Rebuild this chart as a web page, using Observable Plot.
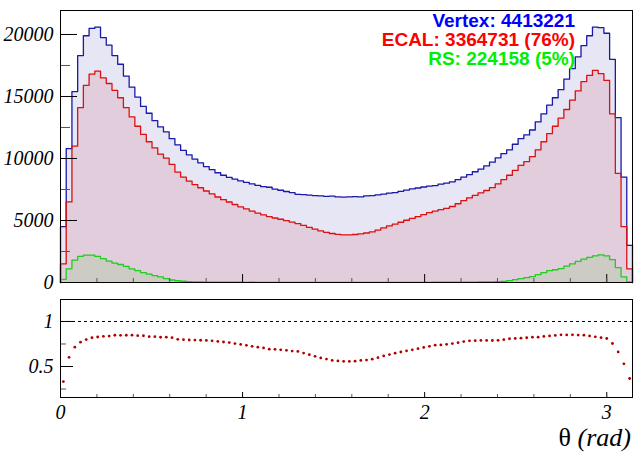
<!DOCTYPE html>
<html><head><meta charset="utf-8">
<script src="https://cdn.jsdelivr.net/npm/d3@7"></script>
<script src="https://cdn.jsdelivr.net/npm/@observablehq/plot@0.6"></script>
<style>
html,body{margin:0;padding:0;background:#fff;}
#wrap{position:relative;width:634px;height:462px;overflow:hidden;}
#top{position:absolute;left:0;top:0;}
#bot{position:absolute;left:0;top:290px;}
#xl{position:absolute;right:3px;top:425px;font-family:"Liberation Serif",serif;font-size:26px;line-height:26px;white-space:nowrap;color:#000;}
#xl i{font-style:italic;}
#top svg text, #bot svg text{font-family:"Liberation Serif",serif !important;font-style:italic !important;font-size:20px !important;}
.leg{position:absolute;right:59px;font-family:"Liberation Sans",Arial,sans-serif;font-weight:bold;font-size:19px;line-height:19px;white-space:nowrap;}
</style></head><body>
<div id="wrap"><div id="top"></div><div id="bot"></div><div id="xl">θ <i>(rad)</i></div></div>
<script>
// Counts per θ bin (100 bins over [0, π])
const vertex = [
4500, 10800, 15400, 18300, 19900, 20500, 20600, 19750, 19150, 18300,
17600, 16650, 15750, 14950, 14200, 13650, 13050, 12550, 12150, 11600,
11100, 10650, 10300, 9950, 9650, 9350, 9100, 8850, 8650, 8480,
8330, 8190, 8070, 7950, 7830, 7730, 7680, 7530, 7440, 7340,
7250, 7110, 7090, 7050, 7010, 6990, 6950, 6960, 6900, 6890,
6900, 6920, 6900, 6980, 7010, 7070, 7120, 7210, 7250, 7350,
7450, 7550, 7620, 7700, 7780, 7820, 7930, 8010, 8120, 8300,
8500, 8700, 8930, 9150, 9400, 9700, 10050, 10400, 10700, 11150,
11600, 11900, 12300, 12950, 13600, 14300, 14900, 15550, 16400, 17250,
18200, 19100, 19900, 20600, 20550, 20100, 18000, 13300, 8500, 3000
];
const ecal = [
1500, 6500, 11000, 14100, 15900, 16800, 17050, 16500, 16050, 15500,
14900, 14100, 13350, 12600, 11950, 11350, 10850, 10350, 10030, 9520,
8900, 8500, 8180, 7900, 7640, 7380, 7150, 6895, 6680, 6490,
6290, 6100, 5930, 5760, 5600, 5460, 5320, 5200, 5100, 4990,
4870, 4750, 4600, 4450, 4300, 4160, 4050, 3950, 3880, 3840,
3840, 3870, 3920, 3990, 4080, 4230, 4400, 4560, 4700, 4860,
5020, 5170, 5320, 5480, 5630, 5760, 5870, 5980, 6130, 6350,
6600, 6830, 7030, 7230, 7420, 7650, 7950, 8300, 8650, 9050,
9450, 9750, 10150, 10700, 11350, 12000, 12600, 13250, 13950, 14700,
15450, 16200, 16700, 17100, 16850, 16300, 13600, 8800, 4500, 1100
];
const rs = [
250, 1100, 1800, 2100, 2200, 2200, 2100, 1920, 1730, 1570,
1450, 1300, 1100, 950, 800, 680, 560, 450, 320, 200,
140, 100, 70, 50, 40, 35, 30, 30, 25, 20,
20, 20, 15, 20, 15, 15, 10, 15, 10, 10,
10, 10, 10, 10, 5, 10, 5, 5, 10, 5,
5, 5, 10, 5, 10, 10, 10, 10, 10, 10,
15, 10, 15, 15, 15, 20, 20, 20, 25, 25,
30, 30, 35, 40, 45, 50, 60, 90, 150, 230,
310, 390, 480, 640, 800, 950, 1030, 1120, 1320, 1500,
1700, 1880, 2030, 2150, 2220, 2150, 1850, 1200, 450, 50
];
const legendNames = ["Vertex", "ECAL", "RS"];
const legendCounts = [4413221, 3364731, 224158];
const legendPct = [null, 76, 5];
const yTopTicks = [0, 5000, 10000, 15000, 20000];
const yTopMinor = [2500, 7500, 12500, 17500];
const xMajorTicks = [0, 1, 2, 3];
const xMinorTicks = [0.2,0.4,0.6,0.8,1.2,1.4,1.6,1.8,2.2,2.4,2.6,2.8,3.0];
const yBotTicks = [0.5, 1];
const yBotMinor = [0.25, 0.75];

const nBins = vertex.length;
const xMax = Math.PI;
const edges = d3.range(nBins + 1).map(i => i * xMax / nBins);
function stepPts(vals) {
  const pts = [{x: 0, y: 0}];
  vals.forEach((v, i) => pts.push({x: edges[i], y: v}));
  pts.push({x: xMax, y: vals[nBins - 1]});
  pts.push({x: xMax, y: 0});
  return pts;
}
const ratio = vertex.map((v, i) => ({x: (edges[i] + edges[i + 1]) / 2, r: ecal[i] / v}));
const legendText = legendNames.map((n, i) => `${n}: ${legendCounts[i]}` + (legendPct[i] != null ? ` (${legendPct[i]}%)` : ""));
const legendColors = ["#0000ff", "#ff0000", "#00ee00"];
const legendTop = [10.9, 29.8, 49.2];

const W = 634, ML = 60, MR = 2;
const frameW = W - ML - MR;
const topH = 290, topMT = 10, topMB = 8, topFH = topH - topMT - topMB;
const axisFont = {fontSize: 20, fontStyle: "italic", fontFamily: "Liberation Serif", fill: "black"};
const svgStyle = {background: "white", overflow: "visible"};

const topPlot = Plot.plot({
  width: W, height: topH, marginLeft: ML, marginRight: MR, marginTop: topMT, marginBottom: topMB,
  style: svgStyle,
  x: {domain: [0, xMax], axis: null},
  y: {domain: [0, 21935]},
  marks: [
    Plot.areaY(stepPts(vertex), {x: "x", y: "y", curve: "step-after", fill: "#e6e6f4"}),
    Plot.areaY(stepPts(ecal), {x: "x", y: "y", curve: "step-after", fill: "#e1cddc"}),
    Plot.areaY(stepPts(rs), {x: "x", y: "y", curve: "step-after", fill: "#cccbc4"}),
    Plot.lineY(stepPts(vertex), {x: "x", y: "y", curve: "step-after", stroke: "#1a1aa8", strokeWidth: 1.3}),
    Plot.lineY(stepPts(ecal), {x: "x", y: "y", curve: "step-after", stroke: "#dd1111", strokeWidth: 1.3}),
    Plot.lineY(stepPts(rs), {x: "x", y: "y", curve: "step-after", stroke: "#22cc22", strokeWidth: 1.3}),
    Plot.tickY(yTopTicks, {y: d => d, insetRight: frameW - 17, stroke: "black"}),
    Plot.tickY(yTopMinor, {y: d => d, insetRight: frameW - 10, stroke: "#555"}),
    Plot.tickX(xMajorTicks, {x: d => d, insetTop: topFH - 8, stroke: "black"}),
    Plot.tickX(xMinorTicks, {x: d => d, insetTop: topFH - 4, stroke: "#555"}),
    Plot.axisY({ticks: yTopTicks, tickSize: 0, tickPadding: 7, tickFormat: d => String(d), label: null, ...axisFont}),
    Plot.frame({stroke: "black"})
  ]
});
document.getElementById("top").appendChild(topPlot);

const wrap = document.getElementById("wrap");
legendText.forEach((t, i) => {
  const d = document.createElement("div");
  d.className = "leg";
  d.style.top = legendTop[i] + "px";
  d.style.color = legendColors[i];
  d.textContent = t;
  wrap.appendChild(d);
});

const botH = 172, botMT = 9, botMB = 65, botFH = botH - botMT - botMB;
const botPlot = Plot.plot({
  width: W, height: botH, marginLeft: ML, marginRight: MR, marginTop: botMT, marginBottom: botMB,
  style: svgStyle,
  x: {domain: [0, xMax]},
  y: {domain: [0.156, 1.244]},
  marks: [
    Plot.ruleY([1], {stroke: "black", strokeDasharray: "3,3", strokeWidth: 1}),
    Plot.dot(ratio, {x: "x", y: "r", r: 1.4, fill: "#b00000", stroke: "none"}),
    Plot.tickY(yBotTicks, {y: d => d, insetRight: frameW - 13, stroke: "black"}),
    Plot.tickY(yBotMinor, {y: d => d, insetRight: frameW - 6, stroke: "#555"}),
    Plot.tickX(xMajorTicks, {x: d => d, insetTop: botFH - 5, stroke: "black"}),
    Plot.tickX(xMinorTicks, {x: d => d, insetTop: botFH - 3, stroke: "#555"}),
    Plot.axisY({ticks: yBotTicks, tickSize: 0, tickPadding: 7, tickFormat: d => String(d), label: null, ...axisFont}),
    Plot.axisX({ticks: xMajorTicks, tickSize: 0, tickPadding: 7, tickFormat: d => String(d), label: null, ...axisFont}),
    Plot.frame({stroke: "black"})
  ]
});
document.getElementById("bot").appendChild(botPlot);
</script>
</body></html>
